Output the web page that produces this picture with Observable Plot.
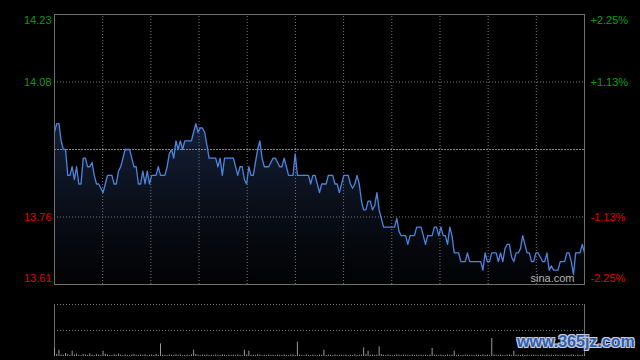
<!DOCTYPE html>
<html>
<head>
<meta charset="utf-8">
<script src="https://cdn.jsdelivr.net/npm/d3@7"></script>
<script src="https://cdn.jsdelivr.net/npm/@observablehq/plot@0.6"></script>
<style>
  html, body { margin: 0; padding: 0; background: #000; }
  #wrap { position: relative; width: 640px; height: 360px; overflow: hidden; background: #000; }
  #main { position: absolute; left: 0; top: 0; }
  #vol { position: absolute; left: 0; top: 290px; }
  #wm { position: absolute; left: 517px; top: 333px; font-family: "Liberation Sans", Arial, sans-serif; font-weight: bold;
        font-size: 16px; color: #2c5fae; white-space: nowrap;
        text-shadow: -1px -1px 0 #ccd, 1px -1px 0 #ccd, -1px 1px 0 #ccd, 1px 1px 0 #ccd; }
</style>
</head>
<body>
<div id="wrap"><div id="main"></div><div id="vol"></div><div id="wm">www.365jz.com</div></div>
<script>
// ---- data ----
const prevClose = 13.92;
const prices = [
  13.96, 13.98, 13.98, 13.94, 13.92, 13.92, 13.86, 13.86, 13.88, 13.85, 13.88, 13.84, 13.84, 13.90, 13.90, 13.88, 13.88, 13.89, 13.86, 13.84,
  13.84, 13.83, 13.82, 13.84, 13.86, 13.86, 13.86, 13.84, 13.84, 13.87, 13.88, 13.90, 13.92, 13.92, 13.92, 13.90, 13.88, 13.88, 13.84, 13.84,
  13.87, 13.84, 13.87, 13.84, 13.86, 13.86, 13.86, 13.88, 13.86, 13.86, 13.86, 13.88, 13.91, 13.92, 13.90, 13.94, 13.92, 13.94, 13.92, 13.94,
  13.94, 13.94, 13.94, 13.96, 13.98, 13.96, 13.97, 13.97, 13.96, 13.93, 13.90, 13.90, 13.90, 13.90, 13.88, 13.90, 13.86, 13.90, 13.90, 13.90,
  13.90, 13.90, 13.88, 13.86, 13.88, 13.88, 13.85, 13.84, 13.88, 13.86, 13.86, 13.89, 13.92, 13.94, 13.90, 13.88, 13.88, 13.88, 13.89, 13.90,
  13.90, 13.89, 13.88, 13.88, 13.90, 13.88, 13.86, 13.86, 13.86, 13.91, 13.86, 13.86, 13.86, 13.86, 13.86, 13.86, 13.84, 13.86, 13.86, 13.84,
  13.82, 13.84, 13.84, 13.84, 13.86, 13.86, 13.86, 13.84, 13.84, 13.82, 13.84, 13.86, 13.86, 13.86, 13.84, 13.83, 13.84, 13.86, 13.84, 13.80,
  13.78, 13.78, 13.80, 13.80, 13.78, 13.79, 13.82, 13.78, 13.76, 13.74, 13.74, 13.74, 13.74, 13.74, 13.74, 13.76, 13.73, 13.72, 13.72, 13.72,
  13.70, 13.72, 13.72, 13.72, 13.74, 13.74, 13.74, 13.72, 13.70, 13.72, 13.72, 13.72, 13.74, 13.74, 13.72, 13.74, 13.72, 13.72, 13.70, 13.74,
  13.72, 13.68, 13.68, 13.68, 13.66, 13.66, 13.66, 13.68, 13.66, 13.66, 13.66, 13.66, 13.66, 13.66, 13.64, 13.68, 13.66, 13.66, 13.68, 13.68,
  13.68, 13.66, 13.68, 13.66, 13.69, 13.70, 13.70, 13.67, 13.66, 13.68, 13.68, 13.69, 13.72, 13.70, 13.68, 13.68, 13.66, 13.66, 13.68, 13.68,
  13.67, 13.66, 13.66, 13.68, 13.64, 13.65, 13.64, 13.64, 13.64, 13.66, 13.66, 13.66, 13.68, 13.68, 13.66, 13.63, 13.68, 13.68, 13.68, 13.70, 13.68
];
const volumes = [
  860, 220, 630, 150, 120, 300, 180, 100, 530, 160, 240, 120, 90, 200, 150, 110, 260, 130, 100, 180,
  140, 120, 530, 230, 150, 100, 90, 180, 120, 250, 130, 100, 160, 110, 90, 140, 200, 120, 100, 150,
  110, 180, 90, 130, 150, 100, 210, 120, 1260, 140, 110, 90, 160, 130, 100, 180, 120, 150, 90, 110,
  130, 100, 170, 630, 200, 120, 90, 140, 110, 160, 100, 130, 90, 150, 110, 100, 170, 120, 90, 140,
  110, 130, 100, 160, 120, 90, 630, 150, 530, 110, 130, 100, 180, 140, 90, 120, 100, 150, 110, 130,
  90, 140, 120, 100, 160, 110, 90, 130, 150, 100, 1430, 140, 110, 90, 160, 120, 100, 140, 110, 90,
  150, 120, 630, 100, 140, 110, 90, 160, 120, 100, 130, 110, 150, 90, 120, 100, 170, 110, 130, 140,
  860, 180, 530, 120, 150, 110, 140, 960, 200, 130, 100, 150, 120, 90, 110, 160, 130, 100, 140, 110,
  120, 90, 150, 100, 130, 110, 140, 90, 120, 100, 150, 800, 130, 110, 90, 140, 120, 100, 160, 110,
  130, 530, 100, 140, 90, 120, 150, 110, 100, 130, 90, 140, 120, 100, 160, 110, 130, 90, 1800, 150,
  120, 100, 140, 110, 90, 130, 150, 100, 530, 120, 140, 110, 160, 100, 130, 90, 120, 150, 110, 100,
  140, 120, 90, 160, 110, 130, 100, 150, 120, 90, 140, 110, 130, 100, 160, 120, 90, 140, 110, 130, 150
];
const pctLevels = [2.25, 1.125, -1.125, -2.25];
const priceLabels = ["14.23", "14.08", "13.76", "13.61"];
const pctLabels = ["+2.25%", "+1.13%", "-1.13%", "-2.25%"];
const volMax = 5200;

// ---- derived ----
const nMin = prices.length - 1;
const lo = prevClose * (1 - 0.0225), hi = prevClose * (1 + 0.0225);
const series = prices.map((p, i) => ({m: i, price: p}));
const vols = volumes.map((v, i) => ({m: i, v}));
const levels = pctLevels.map((p, i) => ({
  price: prevClose * (1 + p / 100), label: priceLabels[i], pct: pctLabels[i],
  color: p > 0 ? "#00a000" : "#e00000", edge: Math.abs(p) > 2 ? (p > 0 ? "top" : "bottom") : "mid"
}));
const vgrid = d3.range(1, 11).map(k => k * nMin / 11);
const font = "'Liberation Sans', Arial, sans-serif";
const grid = "#777";

const textMarks = [];
for (const [edge, dy] of [["top", 6], ["mid", 0], ["bottom", -6]]) {
  const d = levels.filter(l => l.edge === edge);
  textMarks.push(Plot.text(d, {x: () => 0, y: "price", text: "label", fill: "color", textAnchor: "end", dx: -3, dy, fontSize: 11}));
  textMarks.push(Plot.text(d, {x: () => nMin, y: "price", text: "pct", fill: "color", textAnchor: "start", dx: 6, dy, fontSize: 11}));
}

const main = Plot.plot({
  width: 640, height: 290,
  marginLeft: 54, marginRight: 56, marginTop: 14, marginBottom: 6,
  style: {background: "#000", fontFamily: font, overflow: "visible"},
  x: {domain: [0, nMin], axis: null},
  y: {domain: [lo, hi], axis: null},
  marks: [
    Plot.areaY(series, {x: "m", y1: lo, y2: "price", fill: "url(#pg)"}),
    Plot.ruleX(vgrid, {x: d => d, y1: lo, y2: hi, stroke: grid, strokeDasharray: "1,2"}),
    Plot.ruleY(levels.filter(l => l.edge === "mid"), {y: "price", stroke: grid, strokeDasharray: "1,2"}),
    Plot.ruleY([prevClose], {stroke: "#888", strokeDasharray: "2,1"}),
    Plot.line(series, {x: "m", y: "price", stroke: "#4a86e0", strokeWidth: 1.3}),
    Plot.text(["sina.com"], {x: () => nMin, y: () => lo, text: d => d, fill: "#b4b4b4", textAnchor: "end", dx: -10, dy: -6, fontSize: 11}),
    Plot.frame({stroke: "#6e6e6e"}),
    ...textMarks
  ]
});
d3.select(main).insert("defs", ":first-child").html(
  '<linearGradient id="pg" x1="0" y1="0" x2="0" y2="1">' +
  '<stop offset="0" stop-color="#142038"/><stop offset="0.5" stop-color="#0a0f1a"/><stop offset="1" stop-color="#020203"/></linearGradient>');
document.getElementById("main").appendChild(main);

const vol = Plot.plot({
  width: 640, height: 70,
  marginLeft: 54, marginRight: 56, marginTop: 14, marginBottom: 4,
  style: {background: "#000", fontFamily: font, overflow: "visible"},
  x: {domain: [0, nMin], axis: null},
  y: {domain: [0, volMax], axis: null},
  marks: [
    Plot.ruleY([volMax, volMax / 2], {stroke: grid, strokeDasharray: "1,2"}),
    Plot.ruleX([0, nMin], {x: d => d, y1: 0, y2: volMax, stroke: "#6e6e6e"}),
    Plot.ruleX(vols, {x: "m", y1: 0, y2: "v", stroke: "#999"})
  ]
});
document.getElementById("vol").appendChild(vol);
</script>
</body>
</html>
